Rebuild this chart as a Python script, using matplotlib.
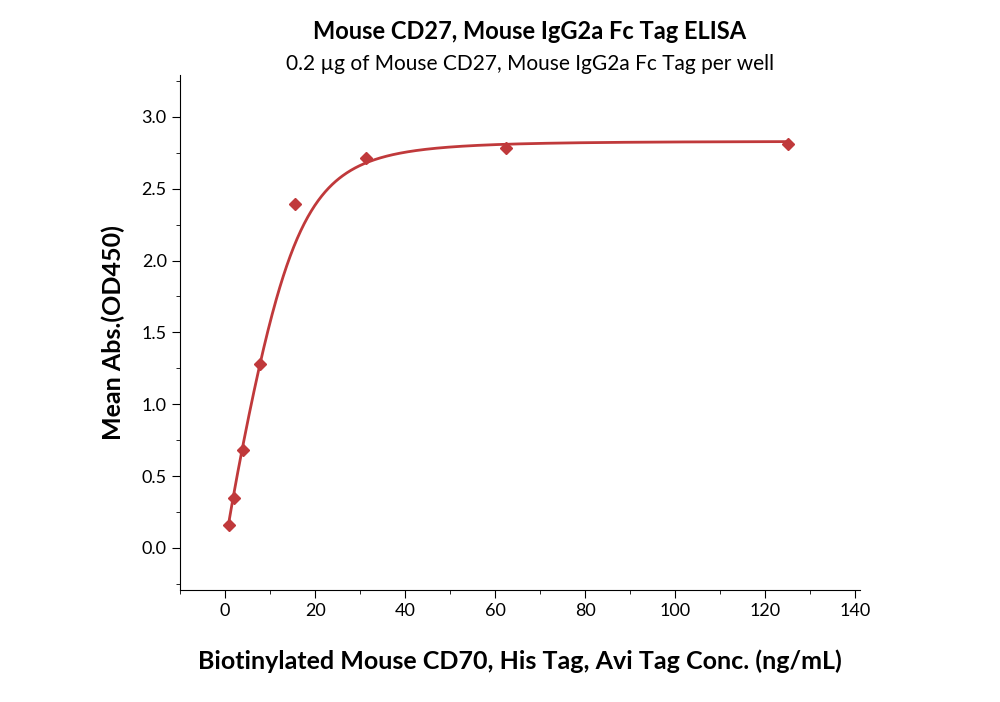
import numpy as np
import matplotlib.pyplot as plt
from matplotlib.ticker import MultipleLocator

plt.rcParams['font.family'] = ['Lato', 'DejaVu Sans']

conc = [0.98, 1.95, 3.9, 7.8, 15.6, 31.25, 62.5, 125]
absorb = [0.16, 0.35, 0.68, 1.28, 2.39, 2.71, 2.78, 2.81]
# 5PL fit parameters (top, c, hill, asymmetry)
fit_top, fit_c, fit_hill, fit_s = 2.83, 18.3, 3.0, 0.3

RED = "#c0393b"

fig = plt.figure(figsize=(10, 7.02), dpi=100)
ax = fig.add_axes([0.18, 0.16, 0.68, 0.733])

xs = np.linspace(min(conc), max(conc), 800)
ys = fit_top / (1 + (fit_c / xs) ** fit_hill) ** fit_s
ax.plot(xs, ys, color=RED, lw=2)
ax.plot(conc, absorb, ls="none", marker="D", ms=6, color=RED)

ax.set_xlim(-10, 141)
ax.set_ylim(-0.29, 3.29)
ax.xaxis.set_major_locator(MultipleLocator(20))
ax.xaxis.set_minor_locator(MultipleLocator(10))
ax.yaxis.set_minor_locator(MultipleLocator(0.25))
ax.set_yticks(np.arange(0, 3.01, 0.5))
ax.set_yticklabels([f"{v:.1f}" for v in np.arange(0, 3.01, 0.5)])
ax.tick_params(which="major", length=6, labelsize=13)
ax.tick_params(which="minor", length=3)
ax.spines["top"].set_visible(False)
ax.spines["right"].set_visible(False)

ax.set_xlabel("Biotinylated Mouse CD70, His Tag, Avi Tag Conc. (ng/mL)",
              fontsize=18, fontweight="bold", labelpad=22)
ax.set_ylabel("Mean Abs.(OD450)", fontsize=18, fontweight="bold", labelpad=12)
fig.text(0.53, 0.945, "Mouse CD27, Mouse IgG2a Fc Tag ELISA",
         ha="center", fontsize=17, fontweight="bold")
fig.text(0.53, 0.9, "0.2 µg of Mouse CD27, Mouse IgG2a Fc Tag per well",
         ha="center", fontsize=15)

fig.savefig("out.png", dpi=100)
